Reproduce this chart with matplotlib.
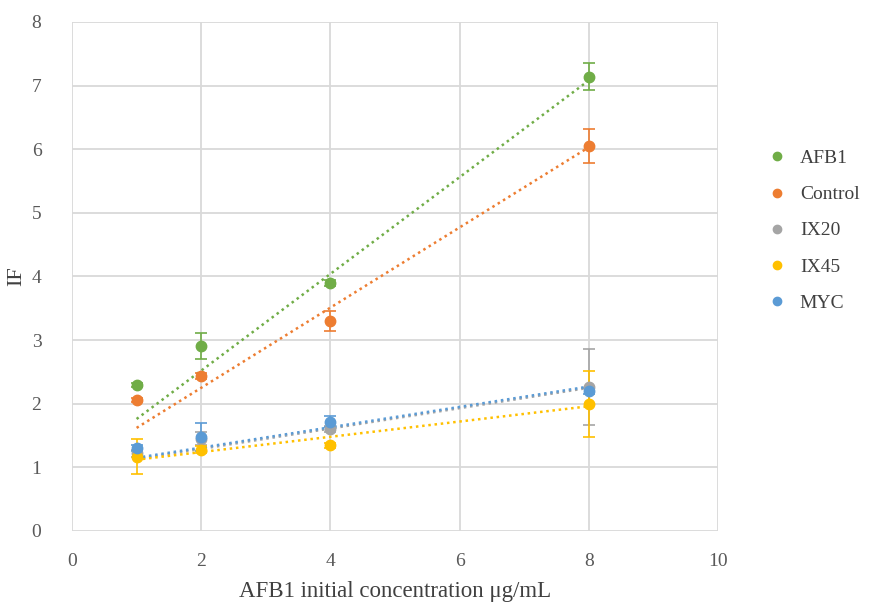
import numpy as np
import matplotlib
matplotlib.use("Agg")
import matplotlib.pyplot as plt

plt.rcParams['font.family'] = ['Liberation Serif', 'DejaVu Serif']

# concentrations (ug/mL)
conc = [1, 2, 4, 8]

series = ['AFB1', 'Control', 'IX20', 'IX45', 'MYC']
colors = ['#70AD47', '#ED7D31', '#A5A5A5', '#FFC000', '#5B9BD5']

afb1 = [2.30, 2.91, 3.90, 7.14]
control = [2.06, 2.44, 3.30, 6.05]
ix20 = [1.22, 1.45, 1.60, 2.26]
ix45 = [1.17, 1.28, 1.35, 2.00]
myc = [1.30, 1.48, 1.72, 2.20]

afb1_err = [0.03, 0.20, 0.05, 0.21]
control_err = [0.03, 0.05, 0.15, 0.27]
ix20_err = [0.05, 0.10, 0.05, 0.60]
ix45_err = [0.27, 0.05, 0.04, 0.52]
myc_err = [0.05, 0.22, 0.08, 0.05]

# linear trend lines as shown (slope, intercept)
trend_slope = [0.76, 0.63, 0.16, 0.12, 0.16]
trend_intercept = [1.00, 0.99, 0.97, 1.00, 0.99]

values = [afb1, control, ix20, ix45, myc]
errors = [afb1_err, control_err, ix20_err, ix45_err, myc_err]

fig = plt.figure(figsize=(8.74, 6.02), dpi=100)
ax = fig.add_axes([0.0824, 0.118, 0.739, 0.8455])

x = np.array(conc)
xt = np.array([x.min(), x.max()])
for name, c, y, e, m, b in zip(series, colors, values, errors, trend_slope, trend_intercept):
    ax.errorbar(x, y, yerr=e, fmt='o', color=c, ms=7.5, capsize=4,
                elinewidth=1.2, capthick=1.2, label=name, zorder=3)
    ax.plot(xt, m * xt + b, linestyle=(0, (1, 1.5)), color=c, lw=1.8, zorder=2)

ax.set_xlim(0, 10)
ax.set_ylim(0, 8)
ax.set_xticks(range(0, 11, 2))
ax.set_yticks(range(0, 9))
ax.grid(True, color='#d9d9d9', lw=1.3)
ax.set_axisbelow(True)
for s in ax.spines.values():
    s.set_visible(False)
ax.tick_params(length=0, labelsize=14, colors='#595959', pad=16)
ax.tick_params(axis='y', pad=22)

ax.set_xlabel('AFB1 initial concentration μg/mL', fontsize=16.5, color='#404040', labelpad=8)
ax.set_ylabel('IF', fontsize=16, color='#404040', labelpad=4)

labels = series
handles = [plt.Line2D([], [], marker='o', ls='', color=c, ms=6) for c in colors]
ax.legend(handles, labels, loc='center left', bbox_to_anchor=(1.035, 0.59),
          frameon=False, fontsize=14, labelspacing=0.95, handletextpad=0.15,
          labelcolor='#404040')

fig.savefig('out.png', dpi=100)
